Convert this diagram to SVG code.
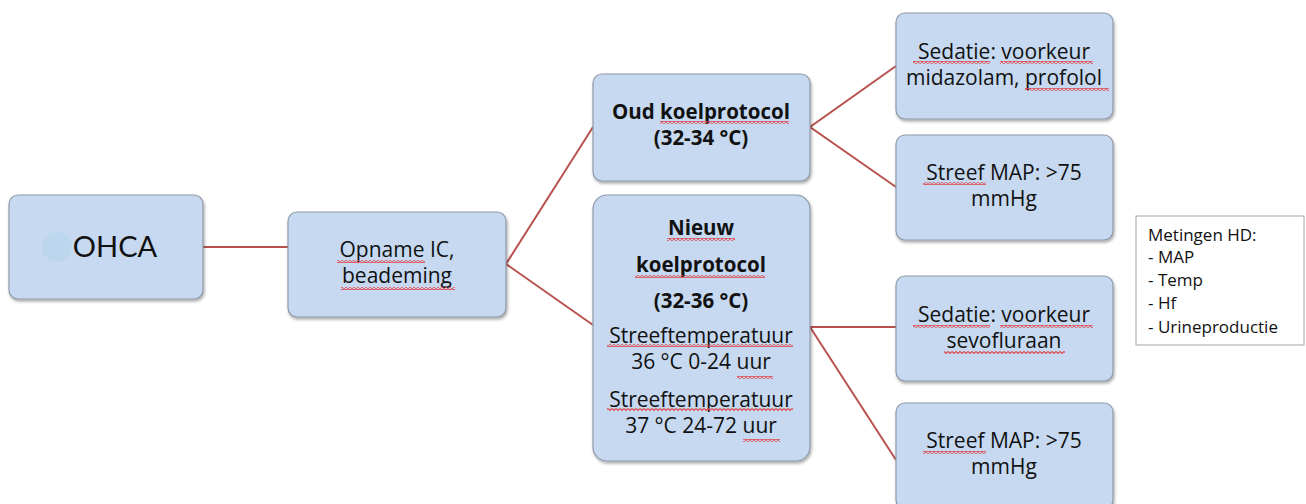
<svg xmlns="http://www.w3.org/2000/svg" width="1306" height="504" viewBox="0 0 1306 504">
<style>
.box{fill:#c6d9f0;stroke:#8e99a8;stroke-width:1.2;filter:url(#sh)}
.t{font-family:"Open Sans","Liberation Sans",sans-serif;font-size:21px;fill:#111;text-anchor:middle}
.b{font-weight:bold;font-size:20.5px}
.m{font-family:"Open Sans","Liberation Sans",sans-serif;font-size:17px;fill:#111}
.c{stroke:#b9514e;stroke-width:2;fill:none}
.sq{fill:url(#wave)}
</style>
<defs>
<filter id="sh" x="-10%" y="-10%" width="120%" height="130%">
<feDropShadow dx="1" dy="2" stdDeviation="1.5" flood-color="#000" flood-opacity="0.35"/>
</filter>
<pattern id="wave" width="4" height="3" patternUnits="userSpaceOnUse">
<path d="M0 0.5 L2 2.5 L4 0.5" stroke="#e0474c" stroke-width="1.1" fill="none"/>
</pattern>
</defs>
<rect width="1306" height="504" fill="#fff"/>
<g id="connectors">
<line class="c" x1="203" y1="247" x2="288" y2="247"/>
<polyline class="c" points="593,127 506,264 593,325"/>
<polyline class="c" points="896,66 810,127 896,187"/>
<line class="c" x1="810" y1="327" x2="896" y2="327"/>
<polyline class="c" points="810,327 896,460"/>
</g>
<g id="ohca">
<rect class="box" x="9" y="195" width="194" height="104" rx="9"/>
<circle cx="57" cy="247" r="15" fill="#bcd6ee"/>
<text class="t" x="115" y="257" style="font-family:Lato,'Liberation Sans',sans-serif;font-size:29px">OHCA</text>
</g>
<g id="opname">
<rect class="box" x="288" y="212" width="218" height="105" rx="9"/>
<text class="t" x="397" y="257">Opname IC,</text>
<text class="t" x="397" y="283">beademing</text>
<rect class="sq" x="337" y="260" width="88" height="3"/>
<rect class="sq" x="341" y="287" width="114" height="3"/>
</g>
<g id="oud">
<rect class="box" x="593" y="74" width="217" height="107" rx="9"/>
<text class="t b" x="701" y="119">Oud koelprotocol</text>
<text class="t b" x="701" y="145">(32-34 °C)</text>
<rect class="sq" x="660" y="121" width="129" height="3"/>
</g>
<g id="nieuw">
<rect class="box" x="593" y="195" width="217" height="266" rx="14"/>
<text class="t b" x="701" y="235">Nieuw</text>
<text class="t b" x="701" y="272">koelprotocol</text>
<text class="t b" x="701" y="308">(32-36 °C)</text>
<text class="t" x="701" y="343">Streeftemperatuur</text>
<text class="t" x="701" y="369">36 °C 0-24 uur</text>
<text class="t" x="701" y="407">Streeftemperatuur</text>
<text class="t" x="701" y="433">37 °C 24-72 uur</text>
<rect class="sq" x="667" y="238" width="68" height="3"/>
<rect class="sq" x="635" y="275" width="130" height="3"/>
<rect class="sq" x="607" y="344" width="186" height="3"/>
<rect class="sq" x="737" y="376" width="36" height="3"/>
<rect class="sq" x="607" y="408" width="186" height="3"/>
<rect class="sq" x="743" y="439" width="37" height="3"/>
</g>
<g id="sed1">
<rect class="box" x="896" y="13" width="217" height="106" rx="9"/>
<text class="t" x="1004" y="59">Sedatie: voorkeur</text>
<text class="t" x="1004" y="85">midazolam, profolol</text>
<rect class="sq" x="913" y="61" width="77" height="3"/>
<rect class="sq" x="1000" y="61" width="93" height="3"/>
<rect class="sq" x="1025" y="88" width="84" height="3"/>
</g>
<g id="map1">
<rect class="box" x="896" y="135" width="217" height="105" rx="9"/>
<text class="t" x="1004" y="180">Streef MAP: &gt;75</text>
<text class="t" x="1004" y="206">mmHg</text>
<rect class="sq" x="923" y="182" width="63" height="3"/>
</g>
<g id="sed2">
<rect class="box" x="896" y="276" width="217" height="105" rx="9"/>
<text class="t" x="1004" y="322">Sedatie: voorkeur</text>
<text class="t" x="1004" y="348">sevofluraan</text>
<rect class="sq" x="913" y="325" width="77" height="3"/>
<rect class="sq" x="1000" y="325" width="93" height="3"/>
<rect class="sq" x="944" y="351" width="121" height="3"/>
</g>
<g id="map2">
<rect class="box" x="896" y="403" width="217" height="106" rx="9"/>
<text class="t" x="1004" y="448">Streef MAP: &gt;75</text>
<text class="t" x="1004" y="474">mmHg</text>
<rect class="sq" x="923" y="451" width="63" height="3"/>
</g>
<g id="metingen">
<rect x="1136" y="216" width="168" height="129" fill="#fff" stroke="#a6a6a6" stroke-width="1"/>
<text class="m" x="1148" y="241">Metingen HD:</text>
<text class="m" x="1148" y="263">- MAP</text>
<text class="m" x="1148" y="286">- Temp</text>
<text class="m" x="1148" y="309">- Hf</text>
<text class="m" x="1148" y="333">- Urineproductie</text>
</g>
</svg>
